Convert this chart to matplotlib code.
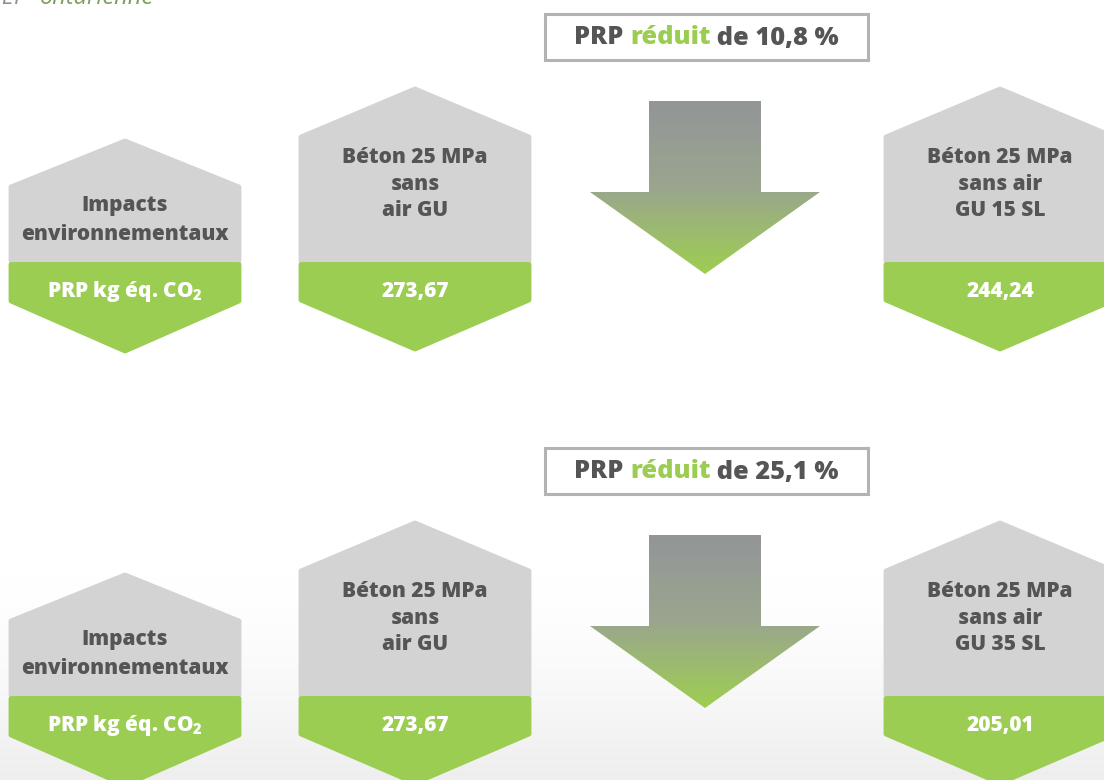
import matplotlib.pyplot as plt
import numpy as np
from matplotlib.patches import Polygon, Rectangle
from matplotlib.colors import LinearSegmentedColormap

plt.rcParams['font.family'] = ['Open Sans', 'DejaVu Sans']
plt.rcParams['mathtext.default'] = 'regular'

# data
impact_label = "Impacts\nenvironnementaux"
unit_label = "PRP kg éq. CO$_2$"
ref_name = "Béton 25 MPa\nsans\nair GU"
ref_values = [273.67, 273.67]
alt_names = ["Béton 25 MPa\nsans air\nGU 15 SL", "Béton 25 MPa\nsans air\nGU 35 SL"]
alt_values = [244.24, 205.01]
reductions = [10.8, 25.1]

GRAY = "#d3d3d3"
GREEN = "#9ccd53"
TXT = "#555555"
WEIGHT = 800

W, H = 1104, 780
fig = plt.figure(figsize=(W/100, H/100), dpi=100)
ax = fig.add_axes([0, 0, 1, 1])
ax.set_xlim(0, W); ax.set_ylim(H, 0)
ax.axis('off')

# faint concrete-ish background towards the bottom
bg = np.linspace(0, 1, 200)[:, None] ** 1.6
ax.imshow(bg, extent=[0, W, H, 570], cmap=LinearSegmentedColormap.from_list('bg', ['#ffffff', '#eeeeee']),
          aspect='auto', zorder=0)

def fmt(v):
    return f"{v:.2f}".replace('.', ',')

def hexagon(cx, top, sh_top, sep, sh_bot, bot, hw=114):
    up = [(cx-hw, sep), (cx-hw, sh_top), (cx, top), (cx+hw, sh_top), (cx+hw, sep)]
    lo = [(cx-hw, sep+3.5), (cx+hw, sep+3.5), (cx+hw, sh_bot), (cx, bot), (cx-hw, sh_bot)]
    ax.add_patch(Polygon(up, closed=True, fc=GRAY, ec=GRAY, lw=3.5, joinstyle='round', zorder=2))
    ax.add_patch(Polygon(lo, closed=True, fc=GREEN, ec=GREEN, lw=3.5, joinstyle='round', zorder=2))

def arrow(dy):
    pts = [(649, 101+dy), (761, 101+dy), (761, 192+dy), (820, 192+dy), (705, 274+dy),
           (590, 192+dy), (649, 192+dy)]
    poly = Polygon(pts, closed=True, fc='none', ec='none', joinstyle='round')
    ax.add_patch(poly)
    grad = np.linspace(0, 1, 256)[:, None]
    cm = LinearSegmentedColormap.from_list('ar', ['#939598', '#9aa68e', '#9ecf4f'])
    im = ax.imshow(grad, extent=[585, 825, 276+dy, 99+dy], cmap=cm, aspect='auto', zorder=3)
    im.set_clip_path(poly)

def title_box(dy, pct):
    ax.add_patch(Rectangle((545, 14+dy), 323, 46, fc='white', ec='#b3b3b3', lw=2.2, zorder=2))
    parts = [("PRP ", TXT), ("réduit", GREEN), (" de " + f"{pct:.1f}".replace('.', ',') + " %", TXT)]
    r = fig.canvas.get_renderer()
    texts, widths = [], []
    for s, c in parts:
        t = ax.text(0, 38+dy, s, color=c, fontsize=18.3, fontweight=WEIGHT, va='center', ha='left', zorder=4)
        bb = t.get_window_extent(renderer=r)
        texts.append(t); widths.append(bb.width)
    x = 706.5 - sum(widths)/2
    for t, w in zip(texts, widths):
        t.set_x(x); x += w

kw = dict(fontsize=15, fontweight=WEIGHT, ha='center', va='center', zorder=4)
for i, dy in enumerate([0, 434]):
    hexagon(125, 141+dy, 187+dy, 261+dy, 301+dy, 351+dy)
    hexagon(415, 89+dy, 137+dy, 261+dy, 300+dy, 349+dy)
    hexagon(1000, 89+dy, 137+dy, 261+dy, 300+dy, 349+dy)
    ax.text(125, 220+dy, impact_label, color=TXT, linespacing=1.5, **kw)
    ax.text(125, 291+dy, unit_label, color='white', **kw)
    ax.text(415, 184+dy, ref_name, color=TXT, linespacing=1.37, **kw)
    ax.text(415, 291+dy, fmt(ref_values[i]), color='white', **kw)
    ax.text(1000, 184+dy, alt_names[i], color=TXT, linespacing=1.37, **kw)
    ax.text(1000, 291+dy, fmt(alt_values[i]), color='white', **kw)
    arrow(dy)
    title_box(dy, reductions[i])

# cut-off caption at the top-left corner
ax.text(-14, -2, "DEP", color='#8f8f8f', fontsize=17, style='italic', va='center', ha='left', zorder=4)
ax.text(40, -2, "ontarienne", color='#7e9d5c', fontsize=17, style='italic', va='center', ha='left', zorder=4)

fig.savefig("out.png", dpi=100)
